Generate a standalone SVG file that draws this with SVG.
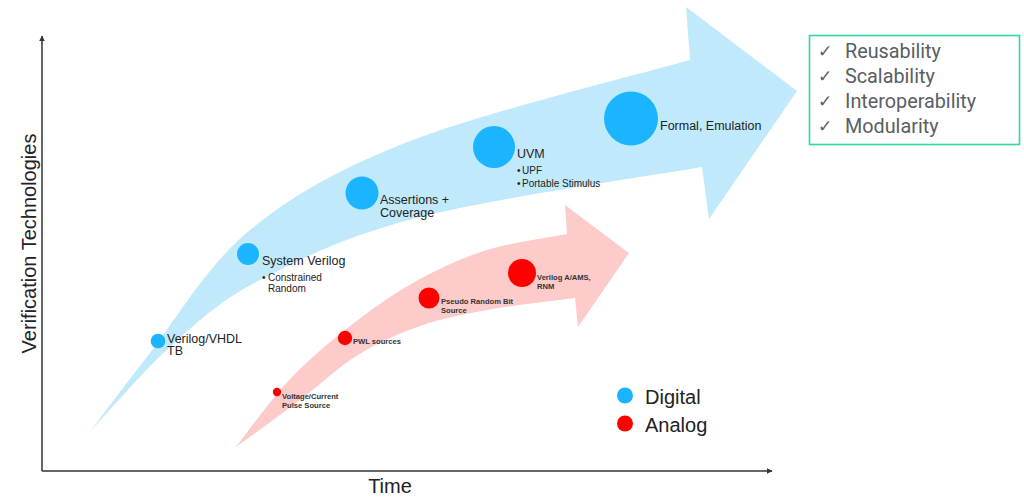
<svg xmlns="http://www.w3.org/2000/svg" width="1024" height="503" viewBox="0 0 1024 503">
<style>
.t{font-family:"Liberation Sans",Arial,sans-serif;fill:#222}
.m{font-size:12.5px}
.s{font-size:10px}
.a{font-size:7.6px;font-weight:bold;fill:#333}
.dig{fill:#1ab4ff}
.ana{fill:#ff0000}
.ax{stroke:#333;stroke-width:1.5;fill:none}
.bx{font-family:Roboto,"Liberation Sans",sans-serif;font-size:19.8px;fill:#595e63}
.ck{font-family:"DejaVu Sans",sans-serif;font-size:17px;fill:#595e63}
</style>
<defs>
<marker id="ah" viewBox="0 0 10 10" refX="9" refY="5" markerWidth="4" markerHeight="4" orient="auto"><path d="M0,0 L10,5 L0,10 z" fill="#333"/></marker>
</defs>
<rect width="1024" height="503" fill="#fff"/>
<g id="arrows">
<path id="digital-arrow" fill="#c0eafc" d="M90,432 C99.5,419.5 120.3,390.7 147,357 C173.7,323.3 205.7,266.2 250,230 C294.3,193.8 339.7,168.3 413,140 C486.3,111.7 643.8,73.3 690,60 L686,7 L797,91 L709,219 L702,167 C655,175.3 493.7,198.2 420,217 C346.3,235.8 301.7,258.3 260,280 C218.3,301.7 198.3,321.7 170,347 C141.7,372.3 103.3,417.8 90,432 Z"/>
<path id="analog-arrow" fill="#fecbcb" d="M235,448 C244.5,436.2 271.5,398.3 292,377 C312.5,355.7 336.7,336.3 358,320 C379.3,303.7 398.5,290.7 420,279 C441.5,267.3 462.5,257.5 487,250 C511.5,242.5 553.7,236.7 567,234 L565,205 L629,253 L578,327 L575,298 C560.3,300 512.8,305.3 487,310 C461.2,314.7 441.5,318.5 420,326 C398.5,333.5 378,342.7 358,355 C338,367.3 320.5,384.5 300,400 C279.5,415.5 245.8,440 235,448 Z"/>
</g>
<g id="axes">
<path class="ax" d="M42,471 L42,36" marker-end="url(#ah)"/>
<path class="ax" d="M42,471 L772,471" marker-end="url(#ah)"/>
<text class="t" x="0" y="0" font-size="20" text-anchor="middle" transform="translate(36,243.5) rotate(-90)">Verification Technologies</text>
<text class="t" x="390" y="493" font-size="20" text-anchor="middle">Time</text>
</g>
<g id="n-verilog-vhdl">
<circle class="dig" cx="158" cy="341" r="7.3"/>
<text class="t m" x="167" y="343">Verilog/VHDL</text>
<text class="t m" x="167" y="355">TB</text>
</g>
<g id="n-systemverilog">
<circle class="dig" cx="248" cy="254" r="11"/>
<text class="t m" x="262" y="265">System Verilog</text>
<text class="t s" x="262" y="281">•</text>
<text class="t s" x="268" y="281">Constrained</text>
<text class="t s" x="268" y="292">Random</text>
</g>
<g id="n-assertions">
<circle class="dig" cx="362" cy="193" r="16.5"/>
<text class="t m" x="380" y="204">Assertions +</text>
<text class="t m" x="380" y="217">Coverage</text>
</g>
<g id="n-uvm">
<circle class="dig" cx="494" cy="147" r="21"/>
<text class="t m" x="517" y="158">UVM</text>
<text class="t s" x="517" y="174">•</text>
<text class="t s" x="522" y="174">UPF</text>
<text class="t s" x="517" y="187">•</text>
<text class="t s" x="522" y="187">Portable Stimulus</text>
</g>
<g id="n-formal">
<circle class="dig" cx="631" cy="118.5" r="27"/>
<text class="t m" x="660" y="130">Formal, Emulation</text>
</g>
<g id="n-voltage">
<circle class="ana" cx="277" cy="392" r="4.2"/>
<text class="t a" x="282" y="399">Voltage/Current</text>
<text class="t a" x="282" y="407.5">Pulse Source</text>
</g>
<g id="n-pwl">
<circle class="ana" cx="345" cy="338" r="7.2"/>
<text class="t a" x="353" y="344">PWL sources</text>
</g>
<g id="n-prbs">
<circle class="ana" cx="429" cy="298" r="10.5"/>
<text class="t a" x="441" y="304">Pseudo Random Bit</text>
<text class="t a" x="441" y="313">Source</text>
</g>
<g id="n-veriloga">
<circle class="ana" cx="522" cy="273" r="14"/>
<text class="t a" x="537" y="280">Verilog A/AMS,</text>
<text class="t a" x="537" y="289">RNM</text>
</g>
<g id="legend">
<circle class="dig" cx="625" cy="395.5" r="8"/>
<text class="t" x="645" y="404" font-size="20">Digital</text>
<circle class="ana" cx="625" cy="423.5" r="8"/>
<text class="t" x="645" y="432" font-size="20">Analog</text>
</g>
<g id="benefits">
<rect x="809.5" y="35.5" width="210" height="109" fill="#fff" stroke="#2fd8a3" stroke-width="1.6"/>
<text class="ck" x="818" y="57">✓</text>
<text class="bx" x="845" y="58">Reusability</text>
<text class="ck" x="818" y="82">✓</text>
<text class="bx" x="845" y="83">Scalability</text>
<text class="ck" x="818" y="107">✓</text>
<text class="bx" x="845" y="108">Interoperability</text>
<text class="ck" x="818" y="132">✓</text>
<text class="bx" x="845" y="133">Modularity</text>
</g>
</svg>
